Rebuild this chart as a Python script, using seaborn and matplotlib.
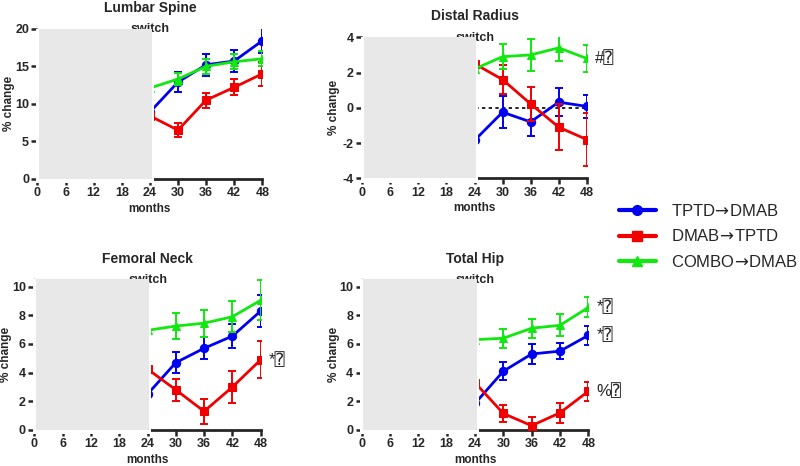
import numpy as np
import pandas as pd
import seaborn as sns
import matplotlib.pyplot as plt
from matplotlib.patches import Rectangle
from matplotlib.lines import Line2D

sns.set_style('ticks')
plt.rcParams['font.family'] = ['Liberation Sans', 'DejaVu Sans']
plt.rcParams['axes.unicode_minus'] = False

months = [0, 24, 30, 36, 42, 48]
groups = ['TPTD$\\!\\rightarrow\\!$DMAB', 'DMAB$\\!\\rightarrow\\!$TPTD', 'COMBO$\\!\\rightarrow\\!$DMAB']
colors = ['#0000f0', '#f00000', '#10e810']
markers = ['o', 's', '^']
msizes = [6, 5.5, 5.5]

# Lumbar Spine
ls_tptd = [0, 8.9, 12.9, 15.2, 15.7, 18.4]
ls_tptd_err = [0, 0, 1.3, 1.45, 1.5, 1.65]
ls_dmab = [0, 8.4, 6.5, 10.5, 12.2, 14.0]
ls_dmab_err = [0, 0, 0.9, 1.0, 1.05, 1.6]
ls_combo = [0, 12.1, 13.3, 15.0, 15.6, 16.0]
ls_combo_err = [0, 0, 0.8, 1.0, 1.0, 1.0]

# Distal Radius
dr_tptd = [0, -1.85, -0.25, -0.8, 0.32, 0.08]
dr_tptd_err = [0, 0, 0.9, 0.8, 0.8, 0.65]
dr_dmab = [0, 2.5, 1.6, 0.22, -1.1, -1.8]
dr_dmab_err = [0, 0, 0.8, 0.95, 1.3, 1.5]
dr_combo = [0, 2.2, 2.9, 3.0, 3.4, 2.8]
dr_combo_err = [0, 0, 0.7, 0.9, 0.75, 0.75]

# Femoral Neck
fn_tptd = [0, 2.5, 4.7, 5.7, 6.55, 8.3]
fn_tptd_err = [0, 0, 0.72, 0.77, 0.85, 1.1]
fn_dmab = [0, 4.25, 2.8, 1.3, 3.0, 4.9]
fn_dmab_err = [0, 0, 0.75, 0.85, 1.1, 1.3]
fn_combo = [0, 6.95, 7.25, 7.45, 7.9, 9.05]
fn_combo_err = [0, 0, 0.9, 0.95, 1.1, 1.4]

# Total Hip
th_tptd = [0, 1.85, 4.1, 5.3, 5.5, 6.6]
th_tptd_err = [0, 0, 0.64, 0.7, 0.58, 0.67]
th_dmab = [0, 3.3, 1.15, 0.3, 1.2, 2.7]
th_dmab_err = [0, 0, 0.6, 0.6, 0.7, 0.68]
th_combo = [0, 6.3, 6.4, 7.1, 7.3, 8.55]
th_combo_err = [0, 0, 0.67, 0.67, 0.77, 0.7]

panels = [
    ('Lumbar Spine', [ls_tptd, ls_dmab, ls_combo], [ls_tptd_err, ls_dmab_err, ls_combo_err],
     (0, 20), [0, 5, 10, 15, 20], [], [0.0468, 0.6159, 0.2811, 0.3225]),
    ('Distal Radius', [dr_tptd, dr_dmab, dr_combo], [dr_tptd_err, dr_dmab_err, dr_combo_err],
     (-4, 4), [-4, -2, 0, 2, 4], [(2, '#\u2370')], [0.4529, 0.6174, 0.2805, 0.3026]),
    ('Femoral Neck', [fn_tptd, fn_dmab, fn_combo], [fn_tptd_err, fn_dmab_err, fn_combo_err],
     (0, 10.5), [0, 2, 4, 6, 8, 10], [(1, '*\u2370')], [0.0429, 0.0773, 0.2830, 0.3230]),
    ('Total Hip', [th_tptd, th_dmab, th_combo], [th_tptd_err, th_dmab_err, th_combo_err],
     (0, 10.5), [0, 2, 4, 6, 8, 10], [(2, '*\u2370'), (0, '*\u2370'), (1, '%\u2370')],
     [0.4521, 0.0773, 0.2833, 0.3230]),
]

fig = plt.figure(figsize=(8, 4.66), dpi=100)
draw_order = [0, 2, 1]  # blue, green, red on top

for title, vals, errs, ylim, yticks, notes, pos in panels:
    ax = fig.add_axes(pos)
    w_px = pos[2] * 800
    h_px = pos[3] * 466
    rows = []
    for k in range(3):
        for m, y in zip(months, vals[k]):
            rows.append({'month': m, 'pct': y, 'group': k})
    df = pd.DataFrame(rows)
    for k in draw_order:
        sub = df[df['group'] == k]
        ax.errorbar(months, vals[k], yerr=errs[k], fmt='none', ecolor=colors[k],
                    elinewidth=1.4, capsize=3, capthick=1.4, zorder=2 + k)
        sns.lineplot(data=sub, x='month', y='pct', color=colors[k], marker=markers[k],
                     markersize=msizes[k], markeredgecolor=colors[k], linewidth=2,
                     ax=ax, zorder=3 + k, legend=False)
    if title == 'Distal Radius':
        ax.axhline(0, color='black', ls=(0, (2, 2)), lw=1.2, zorder=1)
    for k, txt in notes:
        ax.annotate(txt, xy=(48, vals[k][-1]), xytext=(6, 0), textcoords='offset points',
                    va='center', ha='left', fontsize=12,
                    family=['Liberation Sans', 'DejaVu Sans', 'DejaVu Sans Mono'],
                    annotation_clip=False)

    ax.set_xlim(0, 48)
    ax.set_ylim(*ylim)
    ax.set_xticks([0, 6, 12, 18, 24, 30, 36, 42, 48])
    ax.set_yticks(yticks)
    ax.tick_params(axis='both', labelsize=9, width=1.8, length=4, pad=2)
    for lab in ax.get_xticklabels() + ax.get_yticklabels():
        lab.set_fontweight('bold')
    ax.spines['top'].set_visible(False)
    ax.spines['right'].set_visible(False)
    ax.spines['bottom'].set_linewidth(2)
    ax.spines['left'].set_linewidth(1)
    ax.set_xlabel('months', fontsize=8.5, fontweight='bold')
    ax.set_ylabel('% change', fontsize=8.5, fontweight='bold')
    ax.xaxis.set_label_coords(0.5, -24 / h_px)
    ax.yaxis.set_label_coords(-22 / w_px, 0.5)
    ax.annotate(title, xy=(0.5, 1), xycoords='axes fraction', xytext=(0, 15),
                textcoords='offset points', ha='center', va='center',
                fontsize=10, fontweight='bold')

    # switch label and masking box over the first 24 months
    ax.annotate('switch', xy=(24, ylim[1]), xytext=(0, -2.5), textcoords='offset points',
                ha='center', va='baseline', fontsize=9, fontweight='bold',
                zorder=11, annotation_clip=False)
    span = ylim[1] - ylim[0]
    ax.add_patch(Rectangle((-0.3, ylim[0] - 0.03 * span), 25.1, 1.03 * span,
                           facecolor='white', edgecolor='none', zorder=10, clip_on=False))
    ax.add_patch(Rectangle((0.35, ylim[0]), 24.0, span, facecolor='#e8e8e8',
                           edgecolor='none', zorder=12, clip_on=False))

handles = [Line2D([], [], color=colors[k], marker=markers[k], markersize=msizes[k] + 1,
                  lw=3) for k in range(3)]
fig.legend(handles, groups, loc='upper left', bbox_to_anchor=(0.755, 0.596),
           frameon=False, fontsize=12, handlelength=2.2, handletextpad=0.9,
           labelspacing=0.55)

fig.savefig('out.png', dpi=100)
